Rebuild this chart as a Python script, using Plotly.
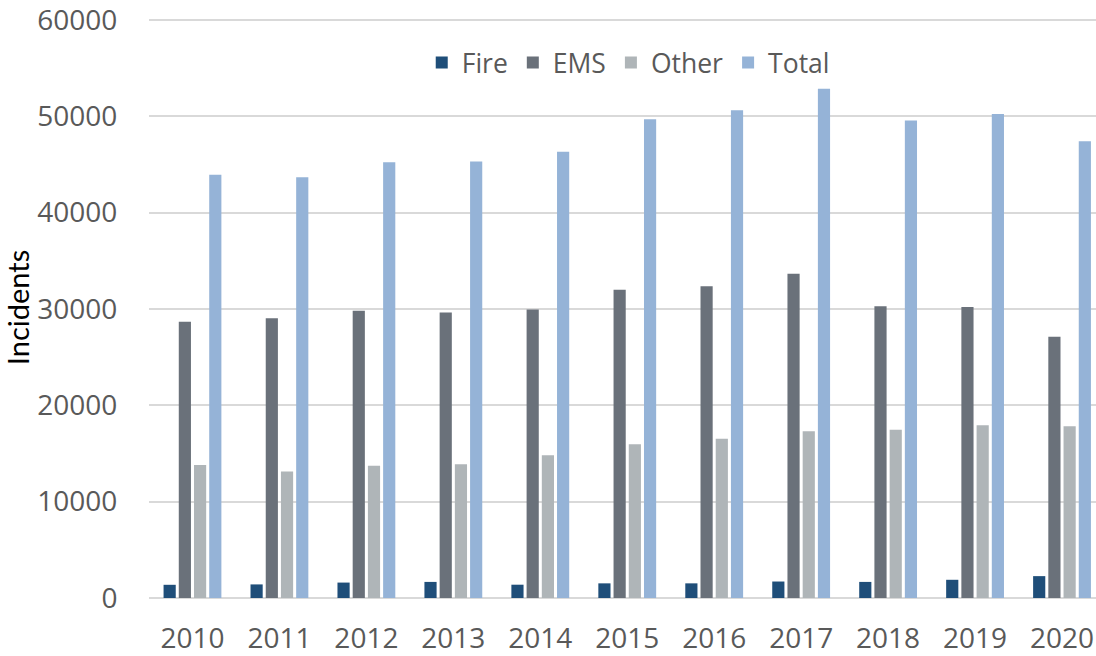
import plotly.graph_objects as go

years = ["2010", "2011", "2012", "2013", "2014", "2015", "2016", "2017", "2018", "2019", "2020"]
fire = [1370, 1410, 1600, 1670, 1380, 1520, 1520, 1710, 1670, 1890, 2270]
ems = [28670, 29040, 29820, 29640, 29940, 31980, 32350, 33650, 30280, 30200, 27120]
other = [13800, 13130, 13720, 13870, 14820, 15970, 16530, 17310, 17460, 17940, 17830]
total = [43920, 43660, 45220, 45290, 46320, 49700, 50630, 52860, 49550, 50220, 47400]

series_names = ["Fire", "EMS", "Other", "Total"]
series_values = [fire, ems, other, total]
series_colors = ["#1f4e79", "#6a717a", "#afb5b8", "#95b3d7"]

fig = go.Figure()
for name, vals, col in zip(series_names, series_values, series_colors):
    fig.add_trace(go.Bar(
        x=years, y=vals, name=name,
        marker=dict(color=col, line=dict(width=0)),
    ))

W, H = 1096, 656
left, bottom = 148.5, 58
y0_px, y60_px = 598.0, 20.0
px_per_unit = (y0_px - y60_px) / 60000.0
y_top = 60300
top = y0_px - y_top * px_per_unit
cat_px = 87.0
plot_w = W - left
x_max = -0.5 + plot_w / cat_px

fig.update_layout(
    width=W, height=H,
    margin=dict(l=left, r=0, t=top, b=bottom, pad=0, autoexpand=False),
    plot_bgcolor="white", paper_bgcolor="white",
    barmode="group", bargap=0.30, bargroupgap=0.2,
    font=dict(family="Open Sans", size=27, color="#595959"),
    showlegend=True,
    legend=dict(
        orientation="h", x=0.288, xanchor="left",
        y=1 - (63 - top) / (y0_px - top), yanchor="middle",
        font=dict(family="Open Sans", size=26.5, color="#595959"),
        bgcolor="rgba(0,0,0,0)", itemclick=False, itemdoubleclick=False,
        traceorder="normal",
    ),
    xaxis=dict(
        type="category", range=[-0.5, x_max], automargin=False,
        showgrid=False, zeroline=False, showline=False,
        ticks="outside", ticklen=15, tickcolor="rgba(0,0,0,0)",
        ticklabeloverflow="allow",
        tickfont=dict(family="Open Sans", size=28, color="#595959"),
    ),
    yaxis=dict(
        range=[0, y_top], tickvals=[0, 10000, 20000, 30000, 40000, 50000, 60000],
        ticktext=["0", "10000", "20000", "30000", "40000", "50000", "60000"],
        automargin=False, ticklabeloverflow="allow",
        showgrid=True, gridcolor="#d9d9d9", gridwidth=2,
        zeroline=True, zerolinecolor="#d9d9d9", zerolinewidth=2,
        showline=False,
        ticks="outside", ticklen=25, tickcolor="rgba(0,0,0,0)",
        tickfont=dict(family="Open Sans", size=28, color="#595959"),
        title=dict(text="Incidents", standoff=2,
                   font=dict(family="Lato", size=29, color="#000000")),
    ),
)

fig.write_html(
    "out.html",
    config={"displayModeBar": False},
    post_script="document.body.style.margin='0';document.body.style.padding='0';document.body.style.overflow='hidden';",
)
